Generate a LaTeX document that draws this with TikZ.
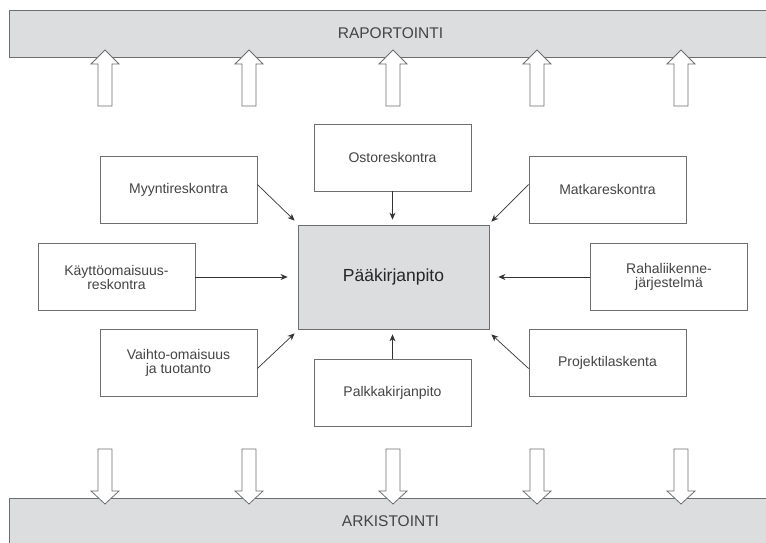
\documentclass[tikz,border=0pt]{standalone}
\usepackage{fontspec}
\setmainfont{Liberation Sans}
\usepackage{xcolor}
\usepackage{tikz}
\usetikzlibrary{arrows.meta}
\definecolor{bargray}{HTML}{DCDDDF}
\definecolor{linegray}{HTML}{6E6E6E}
\definecolor{textgray}{HTML}{444444}

\begin{document}
\begin{tikzpicture}[x=1pt,y=-1pt,
                    box/.style={draw=linegray,line width=0.8pt,fill=white,text=textgray,minimum width=157pt,minimum height=67pt,align=center,font=\fontsize{14}{14}\selectfont},
                    main/.style={draw=linegray,line width=0.8pt,fill=bargray,text=black!85,minimum width=191pt,minimum height=104pt,font=\fontsize{17.5}{20}\selectfont},
                    bar/.style={draw=linegray,line width=0.8pt,fill=bargray,text=textgray,minimum width=763pt,font=\fontsize{15.5}{18}\selectfont},
                    feed/.style={draw=black!80,line width=0.7pt,-{Stealth[length=7pt,width=6pt]}},
                    flow/.style={draw=linegray,line width=0.8pt,fill=white,line join=miter}]
                    \useasboundingbox (0,0) rectangle (766,543);

                    \node[bar,minimum height=47pt] (RAP) at (390.5,33.5) {RAPORTOINTI};
                    \node[bar,minimum height=50pt] (ARK) at (390.5,523) {\raisebox{3pt}{ARKISTOINTI}};

                    \foreach \x in {105,249,393,537,681} {
                        \draw[flow] ({\x-7},106) -- ({\x-7},64) -- ({\x-14},64) -- (\x,50) -- ({\x+14},64) -- ({\x+7},64) -- ({\x+7},106) -- cycle;
                        \draw[flow] ({\x-7},449) -- ({\x-7},491) -- ({\x-14},491) -- (\x,504) -- ({\x+14},491) -- ({\x+7},491) -- ({\x+7},449) -- cycle;
                    }

                    \node[main] (PK) at (393.5,277) {Pääkirjanpito};
                    \node[box] (MR) at (178.5,189.5) {Myyntireskontra};
                    \node[box] (KO) at (116.5,277) {Käyttöomaisuus-\\reskontra};
                    \node[box] (VO) at (178.5,362.5) {Vaihto-omaisuus\\ja tuotanto};
                    \node[box] (OR) at (392.5,157.5) {Ostoreskontra};
                    \node[box] (PL) at (392.5,392.5) {Palkkakirjanpito};
                    \node[box] (MA) at (607.5,189.5) {Matkareskontra};
                    \node[box] (RJ) at (669,277) {Rahaliikenne-\\järjestelmä};
                    \node[box] (PR) at (607.5,362.5) {Projektilaskenta};

                    \draw[feed] ([yshift=5pt]MR.east) -- ([shift={(-3pt,4pt)}]PK.north west);
                    \draw[feed] (KO.east) -- ([xshift=-10pt]PK.west);
                    \draw[feed] ([yshift=-6pt]VO.east) -- ([shift={(-3pt,-4pt)}]PK.south west);
                    \draw[feed] (OR.south) -- ([shift={(-1pt,5pt)}]PK.north);
                    \draw[feed] (PL.north) -- ([shift={(-1pt,-5pt)}]PK.south);
                    \draw[feed] ([yshift=5pt]MA.west) -- ([shift={(2pt,3pt)}]PK.north east);
                    \draw[feed] (RJ.west) -- ([xshift=9pt]PK.east);
                    \draw[feed] ([yshift=-6pt]PR.west) -- ([shift={(2pt,-5pt)}]PK.south east);
                \end{tikzpicture}
\end{document}
